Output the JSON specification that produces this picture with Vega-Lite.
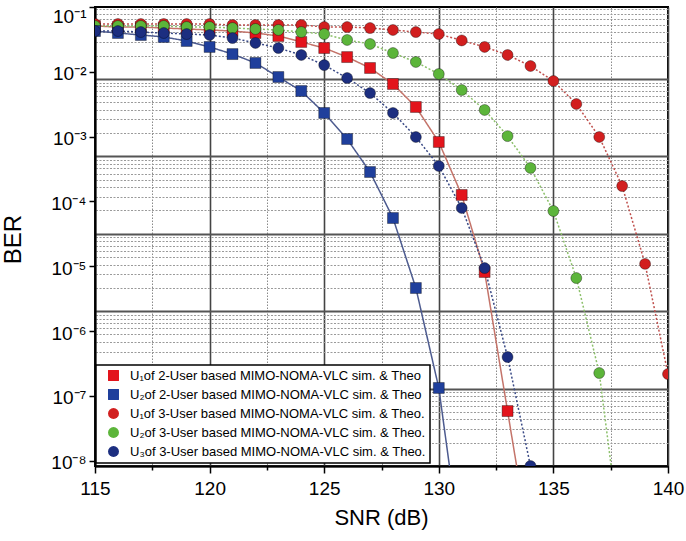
{
  "$schema": "https://vega.github.io/schema/vega-lite/v6.json",
  "width": 573,
  "height": 459,
  "autosize": {"type": "none"},
  "padding": {"left": 95, "top": 7, "right": 18, "bottom": 75},
  "background": "white",
  "config": {
    "font": "Liberation Sans",
    "view": {"stroke": "black", "strokeWidth": 2},
    "legend": {
      "orient": "none", "legendX": 1, "legendY": 358, "title": null,
      "labelFontSize": 13, "labelColor": "black", "labelLimit": 400,
      "symbolSize": 120, "symbolStrokeWidth": 0,
      "strokeColor": "black", "strokeWidth": 1.5, "fillColor": "white",
      "padding": 4, "rowPadding": 5, "symbolOffset": 7, "labelOffset": 10
    }
  },
  "data": {"values": [
    {"snr":115,"ber":0.0509,"s":"U₁of 2-User","k":"sim"},
    {"snr":116,"ber":0.0491,"s":"U₁of 2-User","k":"sim"},
    {"snr":117,"ber":0.0491,"s":"U₁of 2-User","k":"sim"},
    {"snr":118,"ber":0.0474,"s":"U₁of 2-User","k":"sim"},
    {"snr":119,"ber":0.0458,"s":"U₁of 2-User","k":"sim"},
    {"snr":120,"ber":0.0442,"s":"U₁of 2-User","k":"sim"},
    {"snr":121,"ber":0.0426,"s":"U₁of 2-User","k":"sim"},
    {"snr":122,"ber":0.0397,"s":"U₁of 2-User","k":"sim"},
    {"snr":123,"ber":0.0357,"s":"U₁of 2-User","k":"sim"},
    {"snr":124,"ber":0.0289,"s":"U₁of 2-User","k":"sim"},
    {"snr":125,"ber":0.0233,"s":"U₁of 2-User","k":"sim"},
    {"snr":126,"ber":0.0169,"s":"U₁of 2-User","k":"sim"},
    {"snr":127,"ber":0.01146,"s":"U₁of 2-User","k":"sim"},
    {"snr":128,"ber":0.00649,"s":"U₁of 2-User","k":"sim"},
    {"snr":129,"ber":0.00287,"s":"U₁of 2-User","k":"sim"},
    {"snr":130,"ber":0.000828,"s":"U₁of 2-User","k":"sim"},
    {"snr":131,"ber":0.000126,"s":"U₁of 2-User","k":"sim"},
    {"snr":132,"ber":8.18e-6,"s":"U₁of 2-User","k":"sim"},
    {"snr":133,"ber":5.86e-8,"s":"U₁of 2-User","k":"sim"},
    {"snr":133.5,"ber":5e-9,"s":"U₁of 2-User","k":"theo"},
    {"snr":115,"ber":0.0547,"s":"U₁of 3-User","k":"sim"},
    {"snr":116,"ber":0.0547,"s":"U₁of 3-User","k":"sim"},
    {"snr":117,"ber":0.0547,"s":"U₁of 3-User","k":"sim"},
    {"snr":118,"ber":0.0547,"s":"U₁of 3-User","k":"sim"},
    {"snr":119,"ber":0.0547,"s":"U₁of 3-User","k":"sim"},
    {"snr":120,"ber":0.0547,"s":"U₁of 3-User","k":"sim"},
    {"snr":121,"ber":0.0528,"s":"U₁of 3-User","k":"sim"},
    {"snr":122,"ber":0.0528,"s":"U₁of 3-User","k":"sim"},
    {"snr":123,"ber":0.0528,"s":"U₁of 3-User","k":"sim"},
    {"snr":124,"ber":0.0528,"s":"U₁of 3-User","k":"sim"},
    {"snr":125,"ber":0.0491,"s":"U₁of 3-User","k":"sim"},
    {"snr":126,"ber":0.0491,"s":"U₁of 3-User","k":"sim"},
    {"snr":127,"ber":0.0474,"s":"U₁of 3-User","k":"sim"},
    {"snr":128,"ber":0.0442,"s":"U₁of 3-User","k":"sim"},
    {"snr":129,"ber":0.0411,"s":"U₁of 3-User","k":"sim"},
    {"snr":130,"ber":0.0383,"s":"U₁of 3-User","k":"sim"},
    {"snr":131,"ber":0.0305,"s":"U₁of 3-User","k":"sim"},
    {"snr":132,"ber":0.0242,"s":"U₁of 3-User","k":"sim"},
    {"snr":133,"ber":0.0182,"s":"U₁of 3-User","k":"sim"},
    {"snr":134,"ber":0.0123,"s":"U₁of 3-User","k":"sim"},
    {"snr":135,"ber":0.00722,"s":"U₁of 3-User","k":"sim"},
    {"snr":136,"ber":0.00319,"s":"U₁of 3-User","k":"sim"},
    {"snr":137,"ber":0.000988,"s":"U₁of 3-User","k":"sim"},
    {"snr":138,"ber":0.000173,"s":"U₁of 3-User","k":"sim"},
    {"snr":139,"ber":1.09e-5,"s":"U₁of 3-User","k":"sim"},
    {"snr":140,"ber":2.18e-7,"s":"U₁of 3-User","k":"sim"},
    {"snr":115,"ber":0.0509,"s":"U₂of 3-User","k":"sim"},
    {"snr":116,"ber":0.0509,"s":"U₂of 3-User","k":"sim"},
    {"snr":117,"ber":0.0509,"s":"U₂of 3-User","k":"sim"},
    {"snr":118,"ber":0.0509,"s":"U₂of 3-User","k":"sim"},
    {"snr":119,"ber":0.0491,"s":"U₂of 3-User","k":"sim"},
    {"snr":120,"ber":0.0491,"s":"U₂of 3-User","k":"sim"},
    {"snr":121,"ber":0.0474,"s":"U₂of 3-User","k":"sim"},
    {"snr":122,"ber":0.0458,"s":"U₂of 3-User","k":"sim"},
    {"snr":123,"ber":0.0442,"s":"U₂of 3-User","k":"sim"},
    {"snr":124,"ber":0.0411,"s":"U₂of 3-User","k":"sim"},
    {"snr":125,"ber":0.0383,"s":"U₂of 3-User","k":"sim"},
    {"snr":126,"ber":0.031,"s":"U₂of 3-User","k":"sim"},
    {"snr":127,"ber":0.0269,"s":"U₂of 3-User","k":"sim"},
    {"snr":128,"ber":0.0195,"s":"U₂of 3-User","k":"sim"},
    {"snr":129,"ber":0.0142,"s":"U₂of 3-User","k":"sim"},
    {"snr":130,"ber":0.00926,"s":"U₂of 3-User","k":"sim"},
    {"snr":131,"ber":0.00524,"s":"U₂of 3-User","k":"sim"},
    {"snr":132,"ber":0.00258,"s":"U₂of 3-User","k":"sim"},
    {"snr":133,"ber":0.00102,"s":"U₂of 3-User","k":"sim"},
    {"snr":134,"ber":0.000329,"s":"U₂of 3-User","k":"sim"},
    {"snr":135,"ber":7.13e-5,"s":"U₂of 3-User","k":"sim"},
    {"snr":136,"ber":6.6e-6,"s":"U₂of 3-User","k":"sim"},
    {"snr":137,"ber":2.26e-7,"s":"U₂of 3-User","k":"sim"},
    {"snr":137.6,"ber":5e-9,"s":"U₂of 3-User","k":"theo"},
    {"snr":115,"ber":0.0426,"s":"U₂of 2-User","k":"sim"},
    {"snr":116,"ber":0.0397,"s":"U₂of 2-User","k":"sim"},
    {"snr":117,"ber":0.037,"s":"U₂of 2-User","k":"sim"},
    {"snr":118,"ber":0.0345,"s":"U₂of 2-User","k":"sim"},
    {"snr":119,"ber":0.0299,"s":"U₂of 2-User","k":"sim"},
    {"snr":120,"ber":0.0242,"s":"U₂of 2-User","k":"sim"},
    {"snr":121,"ber":0.0188,"s":"U₂of 2-User","k":"sim"},
    {"snr":122,"ber":0.0137,"s":"U₂of 2-User","k":"sim"},
    {"snr":123,"ber":0.00832,"s":"U₂of 2-User","k":"sim"},
    {"snr":124,"ber":0.00506,"s":"U₂of 2-User","k":"sim"},
    {"snr":125,"ber":0.00232,"s":"U₂of 2-User","k":"sim"},
    {"snr":126,"ber":0.00092,"s":"U₂of 2-User","k":"sim"},
    {"snr":127,"ber":0.000285,"s":"U₂of 2-User","k":"sim"},
    {"snr":128,"ber":5.56e-5,"s":"U₂of 2-User","k":"sim"},
    {"snr":129,"ber":4.63e-6,"s":"U₂of 2-User","k":"sim"},
    {"snr":130,"ber":1.33e-7,"s":"U₂of 2-User","k":"sim"},
    {"snr":130.55,"ber":5e-9,"s":"U₂of 2-User","k":"theo"},
    {"snr":115,"ber":0.0426,"s":"U₃of 3-User","k":"sim"},
    {"snr":116,"ber":0.0426,"s":"U₃of 3-User","k":"sim"},
    {"snr":117,"ber":0.0411,"s":"U₃of 3-User","k":"sim"},
    {"snr":118,"ber":0.0397,"s":"U₃of 3-User","k":"sim"},
    {"snr":119,"ber":0.0383,"s":"U₃of 3-User","k":"sim"},
    {"snr":120,"ber":0.037,"s":"U₃of 3-User","k":"sim"},
    {"snr":121,"ber":0.0332,"s":"U₃of 3-User","k":"sim"},
    {"snr":122,"ber":0.0279,"s":"U₃of 3-User","k":"sim"},
    {"snr":123,"ber":0.0233,"s":"U₃of 3-User","k":"sim"},
    {"snr":124,"ber":0.0182,"s":"U₃of 3-User","k":"sim"},
    {"snr":125,"ber":0.0127,"s":"U₃of 3-User","k":"sim"},
    {"snr":126,"ber":0.00803,"s":"U₃of 3-User","k":"sim"},
    {"snr":127,"ber":0.00471,"s":"U₃of 3-User","k":"sim"},
    {"snr":128,"ber":0.00232,"s":"U₃of 3-User","k":"sim"},
    {"snr":129,"ber":0.000988,"s":"U₃of 3-User","k":"sim"},
    {"snr":130,"ber":0.000353,"s":"U₃of 3-User","k":"sim"},
    {"snr":131,"ber":7.94e-5,"s":"U₃of 3-User","k":"sim"},
    {"snr":132,"ber":9.42e-6,"s":"U₃of 3-User","k":"sim"},
    {"snr":133,"ber":3.99e-7,"s":"U₃of 3-User","k":"sim"},
    {"snr":134,"ber":8.32e-9,"s":"U₃of 3-User","k":"sim"}
  ]},
  "resolve": {"scale": {"y": "independent"}},
  "layer": [
    {
      "mark": {"type": "point", "opacity": 0},
      "encoding": {
        "x": {
          "field": "snr", "type": "quantitative",
          "scale": {"domain": [115, 140], "nice": false, "zero": false},
          "axis": {
            "values": [115, 117.5, 120, 122.5, 125, 127.5, 130, 132.5, 135, 137.5, 140],
            "labelExpr": "datum.value % 5 == 0 ? datum.label : ''",
            "labelFlush": false,
            "labelOverlap": false,
            "grid": true,
            "gridColor": {"condition": {"test": "datum.value % 5 != 0", "value": "#8a8a8a"}, "value": "#444444"},
            "gridDash": {"condition": {"test": "datum.value % 5 != 0", "value": [1.5, 1.5]}, "value": [1, 0]},
            "gridWidth": {"condition": {"test": "datum.value % 5 != 0", "value": 1}, "value": 1.6},
            "tickSize": {"condition": {"test": "datum.value % 5 != 0", "value": 4}, "value": 7},
            "tickColor": "black", "tickWidth": 1.5,
            "domainColor": "black", "domainWidth": 2,
            "labelFontSize": 19, "labelColor": "black", "labelPadding": 6,
            "title": "SNR (dB)", "titleFontSize": 22, "titleFontWeight": "normal", "titleColor": "black",
            "titleX": 286, "titleY": 51, "titleAlign": "center", "titleBaseline": "middle"
          }
        },
        "y": {
          "field": "ber", "type": "quantitative",
          "scale": {"type": "log", "domain": [1e-7, 0.0851], "nice": false},
          "axis": {
            "orient": "right", "labels": false, "ticks": false, "domain": false, "title": null, "grid": true,
            "values": [1e-7,2e-7,3e-7,4e-7,5e-7,6e-7,7e-7,8e-7,9e-7,1e-6,2e-6,3e-6,4e-6,5e-6,6e-6,7e-6,8e-6,9e-6,1e-5,2e-5,3e-5,4e-5,5e-5,6e-5,7e-5,8e-5,9e-5,1e-4,2e-4,3e-4,4e-4,5e-4,6e-4,7e-4,8e-4,9e-4,0.001,0.002,0.003,0.004,0.005,0.006,0.007,0.008,0.009,0.01,0.02,0.03,0.04,0.05,0.06,0.07,0.08],
            "gridColor": {"condition": {"test": "abs(log(datum.value)/LN10 - round(log(datum.value)/LN10)) < 0.001", "value": "#555555"}, "value": "#9a9a9a"},
            "gridWidth": {"condition": {"test": "abs(log(datum.value)/LN10 - round(log(datum.value)/LN10)) < 0.001", "value": 1.8}, "value": 1},
            "gridDash": {"condition": {"test": "abs(log(datum.value)/LN10 - round(log(datum.value)/LN10)) < 0.001", "value": [1, 0]}, "value": [2, 1.5]}
          }
        }
      }
    },
    {
      "encoding": {
        "x": {"field": "snr", "type": "quantitative", "scale": {"domain": [115, 140], "nice": false, "zero": false}},
        "y": {
          "field": "ber", "type": "quantitative",
          "scale": {"type": "log", "domain": [8.318e-9, 0.1], "nice": false},
          "axis": {
            "orient": "left",
            "values": [0.1, 0.01, 0.001, 1e-4, 1e-5, 1e-6, 1e-7, 1e-8],
            "labelExpr": "'10⁻' + ['⁰','¹','²','³','⁴','⁵','⁶','⁷','⁸','⁹'][round(-log(datum.value)/LN10)]",
            "labelOffset": {"condition": {"test": "datum.value > 0.05", "value": 9}, "value": 2},
            "grid": false,
            "tickSize": 6, "tickWidth": 1.5, "tickColor": "black",
            "domainColor": "black", "domainWidth": 2,
            "labelFontSize": 19, "labelColor": "black", "labelPadding": 3,
            "labelOverlap": false, "labelFlush": false,
            "title": "BER", "titleFontSize": 24, "titleFontWeight": "normal", "titleColor": "black",
            "titleX": -82, "titleY": 232, "titleAlign": "center", "titleBaseline": "middle", "titleAngle": -90
          }
        }
      },
      "layer": [
        {
          "mark": {"type": "line", "strokeWidth": 1.5, "clip": true},
          "encoding": {
            "stroke": {
              "field": "s", "type": "nominal",
              "scale": {"domain": ["U₁of 2-User", "U₂of 2-User", "U₁of 3-User", "U₂of 3-User", "U₃of 3-User"],
                        "range": ["#c4746a", "#4d5b8f", "#c0504d", "#8cc06a", "#3a4a86"]},
              "legend": {"labelExpr": "datum.label + ' based MIMO-NOMA-VLC sim. & Theo' + (indexof(datum.label, '3-User') >= 0 ? '.' : '')"}
            },
            "strokeDash": {
              "field": "s", "type": "nominal",
              "scale": {"domain": ["U₁of 2-User", "U₂of 2-User", "U₁of 3-User", "U₂of 3-User", "U₃of 3-User"],
                        "range": [[1, 0], [1, 0], [2, 2], [2, 2], [2, 2]]},
              "legend": {"labelExpr": "datum.label + ' based MIMO-NOMA-VLC sim. & Theo' + (indexof(datum.label, '3-User') >= 0 ? '.' : '')"}
            }
          }
        },
        {
          "transform": [{"filter": "datum.k == 'sim'"}],
          "mark": {"type": "point", "filled": true, "size": 120, "stroke": "#000000", "strokeOpacity": 0.35, "strokeWidth": 1, "opacity": 1, "clip": true},
          "encoding": {
            "fill": {
              "field": "s", "type": "nominal",
              "scale": {"domain": ["U₁of 2-User", "U₂of 2-User", "U₁of 3-User", "U₂of 3-User", "U₃of 3-User"],
                        "range": ["#e3141c", "#1f3f9c", "#d21f1f", "#5cb53a", "#1c2e80"]},
              "legend": {"labelExpr": "datum.label + ' based MIMO-NOMA-VLC sim. & Theo' + (indexof(datum.label, '3-User') >= 0 ? '.' : '')"}
            },
            "shape": {
              "field": "s", "type": "nominal",
              "scale": {"domain": ["U₁of 2-User", "U₂of 2-User", "U₁of 3-User", "U₂of 3-User", "U₃of 3-User"],
                        "range": ["square", "square", "circle", "circle", "circle"]},
              "legend": {"labelExpr": "datum.label + ' based MIMO-NOMA-VLC sim. & Theo' + (indexof(datum.label, '3-User') >= 0 ? '.' : '')"}
            }
          }
        }
      ]
    }
  ]
}
